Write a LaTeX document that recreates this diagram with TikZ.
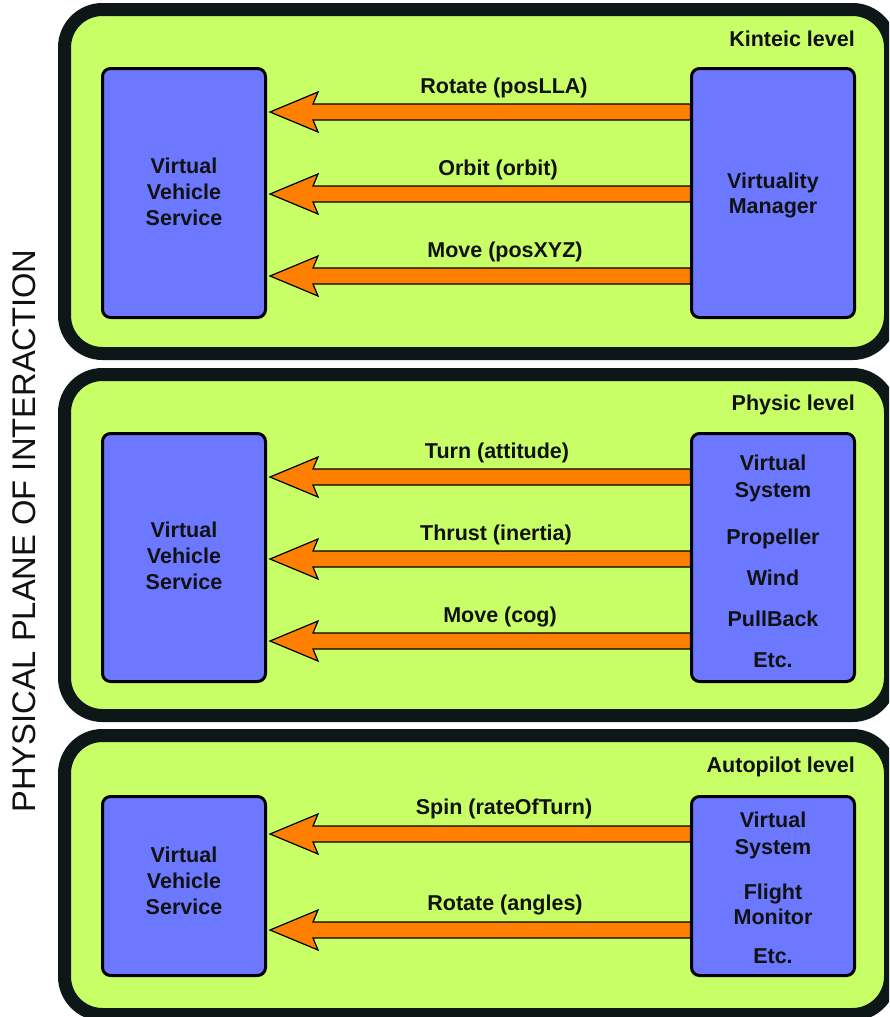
\documentclass[tikz,border=0pt]{standalone}
\usepackage{fontspec}
\setmainfont{Liberation Sans}
\usetikzlibrary{calc}
\definecolor{panelgreen}{HTML}{C8FF66}
\definecolor{boxblue}{HTML}{6B78FF}
\definecolor{arroworange}{HTML}{FF8000}
\definecolor{darkline}{HTML}{0D1717}
\definecolor{textdark}{HTML}{111111}
\newcommand{\fatarrow}[3]{%
  \draw[fatarrowstyle] let \p1=(#1.west |- 0,#3), \p2=(#2.east |- 0,#3) in
    (\x2+3pt,\y2) -- (\x2+51pt,\y2+20pt) -- (\x2+46pt,\y2+8pt) -- (\x1+0.5pt,\y1+8pt)
    -- (\x1+0.5pt,\y1-8pt) -- (\x2+46pt,\y2-8pt) -- (\x2+51pt,\y2-20pt) -- cycle;
}
\begin{document}
\begin{tikzpicture}[x=1pt,y=-1pt,
  panel/.style={draw=darkline, line width=13pt, fill=panelgreen, rounded corners=38pt},
  bluebox/.style={draw=black, line width=3pt, fill=boxblue, rounded corners=8pt,
    minimum width=163pt, inner sep=0pt},
  boxtext/.style={font=\fontsize{21.5}{26}\selectfont\bfseries, text=textdark, align=center, inner sep=0pt},
  lbl/.style={font=\fontsize{21.5}{26}\selectfont\bfseries, text=textdark, inner sep=0pt},
  fatarrowstyle/.style={draw=black, line width=1.2pt, fill=arroworange, line join=miter}
]
\useasboundingbox (0,0) rectangle (889,1017);
\clip (0,0) rectangle (889,1017);
\fill[white] (0,0) rectangle (889,1017);

% side title
\node[rotate=90, font=\fontsize{32.7}{38}\selectfont, text=textdark, inner sep=0pt] (title) at (24,531) {PHYSICAL PLANE OF INTERACTION};

% panels
\draw[panel] (64.5,9.5) rectangle (890.5,353.5);
\draw[panel] (64.5,374.5) rectangle (890.5,715.5);
\draw[panel] (64.5,735.5) rectangle (890.5,1014.5);

% ---------- Kinetic level ----------
\node[lbl, anchor=east] (lvl1) at (855,39) {Kinteic level};
\node[bluebox, minimum height=249pt] (vvs1) at (184,193) {};
\node[bluebox, minimum height=249pt] (vm) at (773,193) {};
\node[boxtext] (vvs1t) at (184,192) {Virtual\\Vehicle\\Service};
\node[boxtext] (vmt) at (773,195) {Virtuality\\[-1pt]Manager};
\fatarrow{vm}{vvs1}{112}
\fatarrow{vm}{vvs1}{194}
\fatarrow{vm}{vvs1}{276}
\node[lbl] (l11) at (504,88) {Rotate (posLLA)};
\node[lbl] (l12) at (498,170) {Orbit (orbit)};
\node[lbl] (l13) at (505,252) {Move (posXYZ)};

% ---------- Physic level ----------
\node[lbl, anchor=east] (lvl2) at (855,405) {Physic level};
\node[bluebox, minimum height=248pt] (vvs2) at (184,557.5) {};
\node[bluebox, minimum height=248pt] (vs2) at (773,557.5) {};
\node[boxtext] (vvs2t) at (184,556) {Virtual\\Vehicle\\Service};
\node[boxtext] (vs2t) at (773,561.5) {Virtual\\[1pt]System\\[21pt]Propeller\\[15pt]Wind\\[15pt]PullBack\\[15pt]Etc.};
\fatarrow{vs2}{vvs2}{477}
\fatarrow{vs2}{vvs2}{559}
\fatarrow{vs2}{vvs2}{641}
\node[lbl] (l21) at (497,453) {Turn (attitude)};
\node[lbl] (l22) at (496,535) {Thrust (inertia)};
\node[lbl] (l23) at (500,617) {Move (cog)};

% ---------- Autopilot level ----------
\node[lbl, anchor=east] (lvl3) at (855,767) {Autopilot level};
\node[bluebox, minimum height=179pt] (vvs3) at (184,886) {};
\node[bluebox, minimum height=179pt] (vs3) at (773,886) {};
\node[boxtext] (vvs3t) at (184,881) {Virtual\\Vehicle\\Service};
\node[boxtext] (vs3t) at (773,888) {Virtual\\[1pt]System\\[19pt]Flight\\[-1pt]Monitor\\[13pt]Etc.};
\fatarrow{vs3}{vvs3}{834}
\fatarrow{vs3}{vvs3}{930}
\node[lbl] (l31) at (504,809) {Spin (rateOfTurn)};
\node[lbl] (l32) at (505,905) {Rotate (angles)};
\end{tikzpicture}
\end{document}
